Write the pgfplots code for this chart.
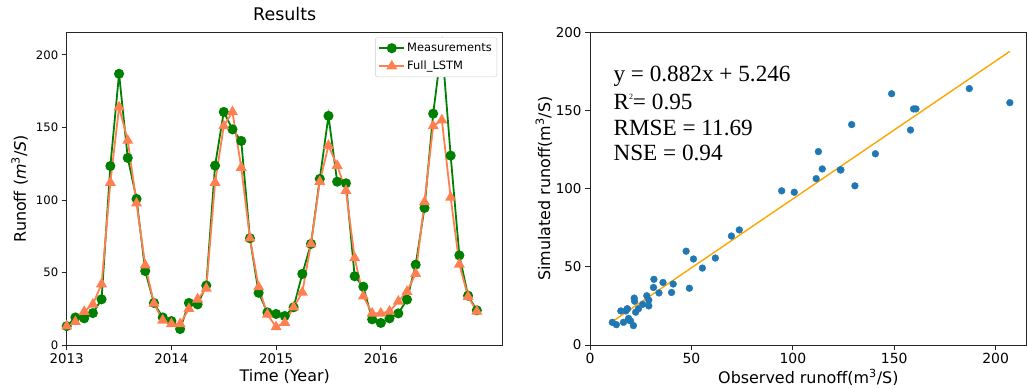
\documentclass[border=0pt]{standalone}
\usepackage{pgfplots}
\usepackage{pgfplotstable}
\pgfplotsset{compat=1.18}
\usepackage{fontspec}
\setmainfont{DejaVu Sans}
\newfontfamily\timesfont{Liberation Serif}
\definecolor{mplgreen}{HTML}{008000}
\definecolor{coral}{HTML}{FF7F50}
\definecolor{tabblue}{HTML}{1F77B4}
\definecolor{fitorange}{HTML}{FFA500}
\definecolor{spine}{HTML}{262626}

\pgfplotstableread{
t meas sim
2013.000 13 13
2013.083 19 16
2013.167 18.4 23
2013.250 22 28
2013.333 31.5 42
2013.417 123.4 112
2013.500 187 164
2013.583 129 141
2013.667 100.7 97.7
2013.750 51 55
2013.833 29 28.7
2013.917 19 17
2014.000 16.5 14.5
2014.083 11 14.5
2014.167 29 25
2014.250 28 31.5
2014.333 41 39
2014.417 123.7 112
2014.500 160.7 151
2014.583 148.7 160.7
2014.667 140.7 122.3
2014.750 73.6 73.6
2014.833 36 40
2014.917 22.5 21
2015.000 21.4 12.4
2015.083 20 15.4
2015.167 26 26
2015.250 49 36.3
2015.333 69.7 69.7
2015.417 114.5 112.6
2015.500 158 137.5
2015.583 112.6 123.7
2015.667 111.5 106.4
2015.750 47.4 60
2015.833 40.2 33.6
2015.917 17.7 21.8
2016.000 15.2 21.8
2016.083 18.4 23.2
2016.167 21.8 30
2016.250 31.3 36.8
2016.333 55.4 49.2
2016.417 94.5 98.6
2016.500 159.5 151
2016.583 207 155
2016.667 130.6 101.8
2016.750 61.8 55.6
2016.833 34 33.3
2016.917 23.9 23.2
}\runoff

\pgfplotsset{
  mplaxis/.style={
    scale only axis,
    anchor=south west,
    axis line style={spine, line width=0.9bp},
    tick style={spine, line width=0.9bp},
    major tick length=5bp,
    tick align=outside,
    xtick pos=bottom, ytick pos=left,
    /pgf/number format/assume math mode=true,
    label style={font=\fontsize{16}{19}\selectfont},
  },
}

\begin{document}
\begin{tikzpicture}
\path[use as bounding box] (0,0) rectangle (1028bp,389bp);

\begin{axis}[
  mplaxis,
  at={(66.7bp,44bp)}, width=436bp, height=312.7bp,
  xmin=2013, xmax=2017.164, ymin=0, ymax=215.6,
  xtick={2013,2014,2015,2016}, xticklabels={2013,2014,2015,2016},
  ytick={0,50,100,150,200},
  xticklabel style={font=\fontsize{13.4}{16}\selectfont},
  yticklabel style={font=\fontsize{11.7}{14}\selectfont},
  title={Results},
  title style={at={(axis description cs:0.5,1.020)}, anchor=base, font=\fontsize{17.5}{20}\selectfont},
  xlabel={Time (Year)},
  xlabel style={at={(axis description cs:0.5,-0.1167)}, anchor=base},
  ylabel={Runoff (\textit{m}\textsuperscript{3}/\textit{S})},
  ylabel style={at={(axis description cs:-0.1078,0.5)}, anchor=center},
  legend style={at={(axis description cs:1,1)}, anchor=north east, xshift=-5.7bp, yshift=-5.3bp,
    font=\fontsize{11.5}{13}\selectfont, draw=black!20, rounded corners=2bp, fill=white,
    inner xsep=3bp, inner ysep=3.5bp, row sep=4bp},
  legend cell align=left,
  legend image code/.code={\draw[mark repeat=2,mark phase=2] plot coordinates {(0bp,0bp)(12.5bp,0bp)(25bp,0bp)};},
]
\addplot[mplgreen, line width=1.8bp, mark=*, mark size=4.1bp, mark options={solid, fill=mplgreen, draw=mplgreen}]
  table[x=t, y=meas] {\runoff};
\addlegendentry{Measurements}
\addplot[coral, line width=1.8bp, mark=triangle*, mark size=4.6bp, mark options={solid, fill=coral, draw=coral}]
  table[x=t, y=sim] {\runoff};
\addlegendentry{Full\_LSTM}
\end{axis}

\begin{axis}[
  mplaxis,
  at={(590bp,44bp)}, width=436.7bp, height=312.7bp,
  xmin=0, xmax=215.3, ymin=0, ymax=200,
  xtick={0,50,100,150,200}, ytick={0,50,100,150,200},
  xticklabel style={font=\fontsize{14}{16}\selectfont},
  yticklabel style={font=\fontsize{13.5}{16}\selectfont},
  xlabel={Observed runoff(m\textsuperscript{3}/S)},
  xlabel style={at={(axis description cs:0.5,-0.1247)}, anchor=base},
  ylabel={Simulated runoff(m\textsuperscript{3}/S)},
  ylabel style={at={(axis description cs:-0.1053,0.5)}, anchor=center},
]
\addplot[only marks, mark=*, mark size=3.4bp, mark options={fill=tabblue, draw=tabblue}]
  table[x=meas, y=sim] {\runoff};
\addplot[fitorange, line width=1.4bp] coordinates {(11,14.95) (207,187.82)};
\node[anchor=base west, inner sep=0pt, font=\timesfont\fontsize{23.3}{26}\selectfont] at (axis cs:11.5,168.4) {y = 0.882x + 5.246};
\node[anchor=base west, inner sep=0pt, font=\timesfont\fontsize{23.3}{26}\selectfont] at (axis cs:11.5,150.8) {R{\fontsize{8}{8}\selectfont\raisebox{10bp}{2}}= 0.95};
\node[anchor=base west, inner sep=0pt, font=\timesfont\fontsize{23.3}{26}\selectfont] at (axis cs:11.5,134.3) {RMSE = 11.69};
\node[anchor=base west, inner sep=0pt, font=\timesfont\fontsize{23.3}{26}\selectfont] at (axis cs:11.5,118.3) {NSE = 0.94};
\end{axis}
\end{tikzpicture}
\end{document}
